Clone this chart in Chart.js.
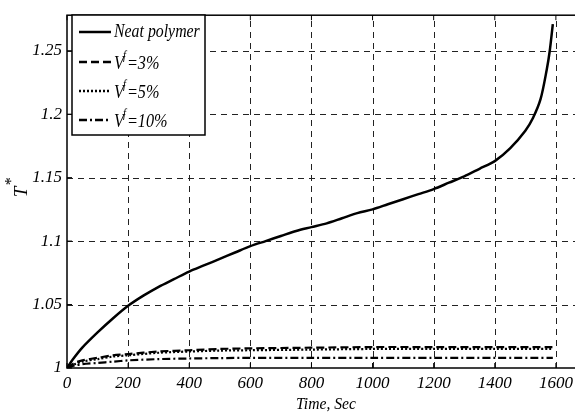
<!DOCTYPE html>
<html><head><meta charset="utf-8">
<script src="https://cdn.jsdelivr.net/npm/chart.js@4"></script>
<style>html,body{margin:0;padding:0;background:#fff;overflow:hidden;width:575px;height:412px}canvas{display:block}</style>
</head><body>
<canvas id="c" width="620" height="412"></canvas>
<script>
const xTickValues = [0, 200, 400, 600, 800, 1000, 1200, 1400, 1600];
const yTickValues = [1, 1.05, 1.1, 1.15, 1.2, 1.25];
const seriesNames = ['Neat polymer', '3%', '5%', '10%'];

const neatTime = [0, 20, 50, 100, 150, 200, 250, 300, 350, 400, 450, 500, 550, 600, 650, 700, 750, 800, 850, 900, 950, 1000, 1050, 1100, 1150, 1200, 1250, 1300, 1350, 1400, 1450, 1500, 1525, 1550, 1570, 1580, 1590];
const neatT = [1.000, 1.007, 1.016, 1.028, 1.039, 1.049, 1.057, 1.064, 1.070, 1.076, 1.081, 1.086, 1.091, 1.096, 1.100, 1.104, 1.108, 1.111, 1.114, 1.118, 1.122, 1.125, 1.129, 1.133, 1.137, 1.141, 1.146, 1.151, 1.157, 1.163, 1.173, 1.187, 1.197, 1.212, 1.235, 1.250, 1.271];

const lowTime = [0, 25, 50, 100, 150, 200, 300, 400, 500, 600, 800, 1000, 1200, 1400, 1590];
const v3T  = [1.000, 1.004, 1.006, 1.008, 1.010, 1.011, 1.013, 1.014, 1.015, 1.0155, 1.016, 1.0165, 1.0165, 1.0165, 1.0165];
const v5T  = [1.000, 1.003, 1.005, 1.007, 1.009, 1.010, 1.012, 1.013, 1.0137, 1.014, 1.0145, 1.015, 1.015, 1.015, 1.015];
const v10T = [1.000, 1.002, 1.003, 1.004, 1.005, 1.006, 1.007, 1.0075, 1.0078, 1.008, 1.008, 1.008, 1.008, 1.008, 1.008];

const pts = (xs, ys) => xs.map((x, i) => ({x, y: ys[i]}));
const FONT = 'Liberation Serif';

const dashes = [[], [8, 4], [2, 2], [8, 3, 2, 3]];
const widths = [2.5, 2.2, 2.2, 2.2];

const datasets = [
  {label: seriesNames[0], data: pts(neatTime, neatT)},
  {label: seriesNames[1], data: pts(lowTime, v3T)},
  {label: seriesNames[2], data: pts(lowTime, v5T)},
  {label: seriesNames[3], data: pts(lowTime, v10T)}
].map((d, i) => Object.assign(d, {
  borderColor: '#000', backgroundColor: '#000', borderWidth: widths[i],
  borderDash: dashes[i], pointRadius: 0, tension: 0.3, fill: false
}));

function condText(ctx, txt, x, y, sx) {
  ctx.save(); ctx.translate(x, y); ctx.scale(sx, 1); ctx.fillText(txt, 0, 0); ctx.restore();
  return ctx.measureText(txt).width * sx;
}

const overlay = {
  id: 'overlay',
  beforeDatasetsDraw(chart) {
    const ctx = chart.ctx, a = chart.chartArea, xs = chart.scales.x, ys = chart.scales.y;
    ctx.save();
    ctx.strokeStyle = '#222'; ctx.lineWidth = 1; ctx.setLineDash([6, 5]);
    xTickValues.forEach(v => { if (v === 0) return; const p = Math.round(xs.getPixelForValue(v)) + 0.5;
      ctx.beginPath(); ctx.moveTo(p, a.bottom); ctx.lineTo(p, a.top); ctx.stroke(); });
    yTickValues.forEach(v => { if (v === 1) return; const p = Math.round(ys.getPixelForValue(v)) + 0.5;
      ctx.beginPath(); ctx.moveTo(a.left, p); ctx.lineTo(a.right, p); ctx.stroke(); });
    ctx.restore();
  },
  afterDraw(chart) {
    const ctx = chart.ctx, a = chart.chartArea;
    const xs = chart.scales.x, ys = chart.scales.y;
    ctx.save();
    ctx.strokeStyle = '#000'; ctx.lineWidth = 1.5; ctx.setLineDash([]);
    ctx.strokeRect(a.left, a.top, a.right - a.left, a.bottom - a.top);
    ctx.lineWidth = 1;
    xTickValues.forEach(v => { const p = xs.getPixelForValue(v);
      ctx.beginPath(); ctx.moveTo(p, a.bottom); ctx.lineTo(p, a.bottom - 5);
      ctx.moveTo(p, a.top); ctx.lineTo(p, a.top + 5); ctx.stroke(); });
    yTickValues.forEach(v => { const p = ys.getPixelForValue(v);
      ctx.beginPath(); ctx.moveTo(a.left, p); ctx.lineTo(a.left + 5, p); ctx.stroke(); });
    // x title
    ctx.fillStyle = '#000'; ctx.textBaseline = 'alphabetic'; ctx.textAlign = 'left';
    ctx.font = 'italic 17px ' + FONT;
    const tw = ctx.measureText('Time, Sec').width * 0.92;
    condText(ctx, 'Time, Sec', 326 - tw / 2, 409, 0.92);
    // y title T*
    ctx.save();
    ctx.translate(22, 192); ctx.rotate(-Math.PI / 2);
    ctx.font = 'italic 19px ' + FONT; ctx.textAlign = 'center'; ctx.textBaseline = 'middle';
    ctx.fillText('T', 0, 0);
    ctx.font = 'italic 16px ' + FONT; ctx.textAlign = 'left';
    ctx.fillText('*', 6, -10);
    ctx.restore();
    ctx.restore();
    // legend
    ctx.save();
    const bx = 72, by = 15, bw = 133, bh = 120;
    ctx.fillStyle = '#fff'; ctx.fillRect(bx, by, bw, bh);
    ctx.strokeStyle = '#000'; ctx.lineWidth = 1.5; ctx.strokeRect(bx, by, bw, bh);
    const rows = [32, 62, 91, 120];
    datasets.forEach((d, i) => {
      const y = rows[i];
      ctx.setLineDash(dashes[i]); ctx.lineWidth = 2.5; ctx.strokeStyle = '#000';
      ctx.beginPath(); ctx.moveTo(79, y); ctx.lineTo(111, y); ctx.stroke();
      ctx.setLineDash([]);
      ctx.fillStyle = '#000'; ctx.textBaseline = 'middle'; ctx.textAlign = 'left';
      ctx.font = 'italic 18px ' + FONT;
      if (i === 0) { condText(ctx, d.label, 114, y, 0.88); }
      else {
        const w = condText(ctx, 'V', 114, y + 2, 0.9);
        ctx.font = 'italic 12px ' + FONT; condText(ctx, 'f', 114 + w - 1, y - 6, 0.9);
        ctx.font = 'italic 18px ' + FONT; condText(ctx, '=' + d.label, 114 + w + 3, y + 2, 0.9);
      }
    });
    ctx.restore();
  }
};

new Chart(document.getElementById('c'), {
  type: 'line',
  data: {datasets},
  options: {
    responsive: false, animation: false,
    layout: {padding: {top: 9, right: 3, left: 0, bottom: 0}},
    plugins: {legend: {display: false}, tooltip: {enabled: false}},
    scales: {
      x: {
        type: 'linear', min: 0, max: 1800,
        afterBuildTicks: s => { s.ticks = xTickValues.map(v => ({value: v})); },
        afterFit: s => { s.height = 44; },
        ticks: {color: '#000', padding: 5, font: {family: FONT, style: 'italic', size: 17}, callback: v => String(v), maxRotation: 0},
        grid: {display: false, drawTicks: false},
        border: {display: false}
      },
      y: {
        type: 'linear', min: 1, max: 1.278,
        afterBuildTicks: s => { s.ticks = yTickValues.map(v => ({value: v})); },
        afterFit: s => { s.width = 67; },
        ticks: {color: '#000', padding: 5, font: {family: FONT, style: 'italic', size: 17}, callback: v => String(+v.toFixed(2))},
        grid: {display: false, drawTicks: false},
        border: {display: false}
      }
    }
  },
  plugins: [overlay]
});
</script>
</body></html>
